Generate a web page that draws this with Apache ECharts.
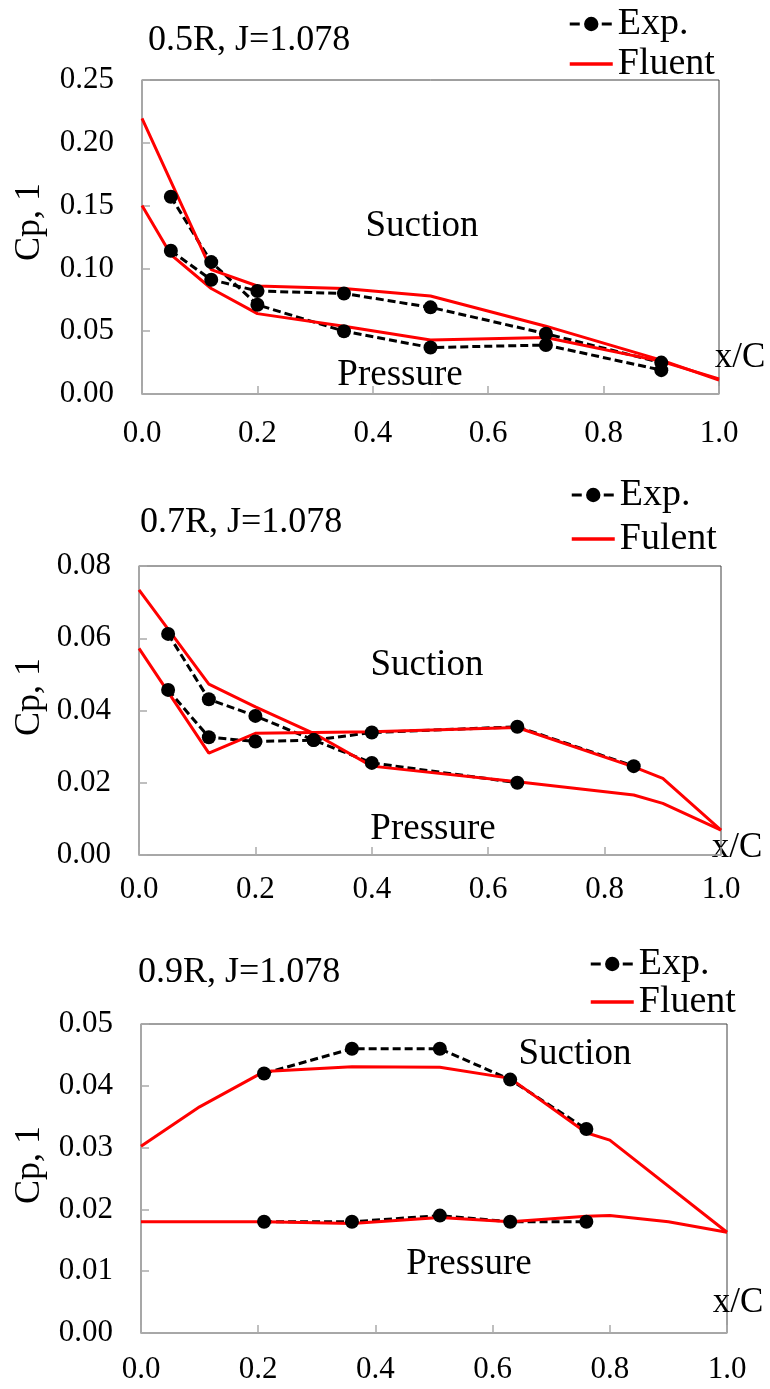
<!DOCTYPE html>
<html>
<head>
<meta charset="utf-8">
<script src="https://cdn.jsdelivr.net/npm/echarts@6/dist/echarts.min.js"></script>
<style>
  html, body { margin: 0; padding: 0; background: #fff; }
  #chart { width: 770px; height: 1389px; }
</style>
</head>
<body>
<div id="chart"></div>
<script>
// Cp distribution at three radial sections, J=1.078

// panel 1 : 0.5R
const p1ExpX = [0.05, 0.12, 0.2, 0.35, 0.5, 0.7, 0.9];
const p1ExpA = [0.157, 0.105, 0.071, 0.050, 0.037, 0.039, 0.019];
const p1ExpB = [0.114, 0.091, 0.082, 0.080, 0.069, 0.048, 0.025];
const p1FluAX = [0, 0.12, 0.2, 0.35, 0.5, 0.7, 0.9, 1.0];
const p1FluA = [0.2195, 0.099, 0.086, 0.084, 0.078, 0.054, 0.027, 0.011];
const p1FluBX = [0, 0.05, 0.12, 0.2, 0.35, 0.5, 0.7, 0.9, 1.0];
const p1FluB = [0.150, 0.111, 0.084, 0.064, 0.054, 0.043, 0.045, 0.026, 0.012];

// panel 2 : 0.7R
const p2ExpAX = [0.05, 0.12, 0.2, 0.3, 0.4, 0.65];
const p2ExpA = [0.0612, 0.0431, 0.0385, 0.0318, 0.0255, 0.0200];
const p2ExpBX = [0.05, 0.12, 0.2, 0.3, 0.4, 0.65, 0.85];
const p2ExpB = [0.0457, 0.0326, 0.0314, 0.0318, 0.0339, 0.0355, 0.0246];
const p2FluAX = [0, 0.12, 0.2, 0.3, 0.4, 0.65, 0.85, 0.9, 1.0];
const p2FluA = [0.0734, 0.0473, 0.0410, 0.0337, 0.0246, 0.0203, 0.0166, 0.0143, 0.0069];
const p2FluBX = [0, 0.12, 0.2, 0.4, 0.65, 0.85, 0.9, 1.0];
const p2FluB = [0.0572, 0.0282, 0.0337, 0.0341, 0.0353, 0.0244, 0.0212, 0.0069];

// panel 3 : 0.9R
const p3ExpX = [0.21, 0.36, 0.51, 0.63, 0.76];
const p3ExpA = [0.042, 0.046, 0.046, 0.041, 0.033];
const p3ExpB = [0.018, 0.018, 0.019, 0.018, 0.018];
const p3FluAX = [0, 0.1, 0.21, 0.36, 0.51, 0.63, 0.76, 0.8, 1.0];
const p3FluA = [0.0302, 0.0366, 0.0423, 0.0431, 0.0430, 0.0412, 0.0324, 0.0312, 0.0163];
const p3FluBX = [0, 0.1, 0.21, 0.36, 0.51, 0.63, 0.76, 0.8, 0.9, 1.0];
const p3FluB = [0.018, 0.018, 0.018, 0.0177, 0.0187, 0.018, 0.0189, 0.019, 0.018, 0.0163];

const titles = ["0.5R, J=1.078", "0.7R, J=1.078", "0.9R, J=1.078"];
const fluentNames = ["Fluent", "Fulent", "Fluent"];
const yMax = [0.25, 0.08, 0.05];
const yStep = [0.05, 0.02, 0.01];

const FONT = "'Liberation Serif', 'Times New Roman', serif";

function pts(xs, ys) {
  return xs.map((x, i) => [x, ys[i]]);
}

// layout of the three panels (px)
const panels = [
  { left: 142, width: 577, top: 80, height: 314, xMargin: 24, legendLeft: 568, legendTop: 5, legendGap: 2,
    titleX: 148, titleY: 41, cpY: 222, suc: [422, 226], pre: [400, 375], xc: [740, 358] },
  { left: 139, width: 582, top: 566, height: 289, xMargin: 19, legendLeft: 570, legendTop: 476, legendGap: 6,
    titleX: 140, titleY: 523, cpY: 697, suc: [427, 665], pre: [433, 829], xc: [737, 848] },
  { left: 141, width: 586, top: 1024, height: 309, xMargin: 21, legendLeft: 589, legendTop: 945, legendGap: 0,
    titleX: 138, titleY: 973, cpY: 1165, suc: [575, 1054], pre: [469, 1264], xc: [738, 1303] },
];

const expData = [
  [pts(p1ExpX, p1ExpA), pts(p1ExpX, p1ExpB)],
  [pts(p2ExpAX, p2ExpA), pts(p2ExpBX, p2ExpB)],
  [pts(p3ExpX, p3ExpA), pts(p3ExpX, p3ExpB)],
];
const fluData = [
  [pts(p1FluAX, p1FluA), pts(p1FluBX, p1FluB)],
  [pts(p2FluAX, p2FluA), pts(p2FluBX, p2FluB)],
  [pts(p3FluAX, p3FluA), pts(p3FluBX, p3FluB)],
];

const grid = [], xAxis = [], yAxis = [], series = [], legend = [], graphic = [];

panels.forEach((p, i) => {
  grid.push({
    left: p.left, width: p.width, top: p.top, height: p.height,
    show: true, borderColor: "#404040", borderWidth: 1,
    outerBoundsMode: "none",
  });
  xAxis.push({
    type: "value", gridIndex: i, min: 0, max: 1, interval: 0.2,
    axisLine: { show: true, lineStyle: { color: "#aaaaaa", width: 1.5 } },
    axisTick: { show: true, inside: true, length: 8, lineStyle: { color: "#aaaaaa", width: 1.5 } },
    splitLine: { show: false },
    axisLabel: {
      margin: p.xMargin, fontSize: 31, fontFamily: FONT, color: "#000",
      formatter: (v) => v.toFixed(1),
    },
  });
  yAxis.push({
    type: "value", gridIndex: i, min: 0, max: yMax[i], interval: yStep[i],
    axisLine: { show: true, lineStyle: { color: "#aaaaaa", width: 1.5 } },
    axisTick: { show: true, inside: true, length: 8, lineStyle: { color: "#aaaaaa", width: 1.5 } },
    splitLine: { show: false },
    axisLabel: {
      margin: 28, fontSize: 31, fontFamily: FONT, color: "#000",
      formatter: (v) => v.toFixed(2),
    },
  });

  expData[i].forEach((d) => {
    series.push({
      name: "Exp.", type: "line", xAxisIndex: i, yAxisIndex: i, data: d,
      symbol: "circle", symbolSize: 14,
      itemStyle: { color: "#000" },
      lineStyle: { color: "#000", width: 3, type: [8, 4] },
    });
  });
  fluData[i].forEach((d) => {
    series.push({
      name: fluentNames[i], type: "line", xAxisIndex: i, yAxisIndex: i, data: d,
      symbol: "none",
      itemStyle: { color: "#ff0000" },
      lineStyle: { color: "#ff0000", width: 3 },
    });
  });

  legend.push({
    data: [
      { name: "Exp.", lineStyle: { type: [10, 6], width: 3 } },
      { name: fluentNames[i], itemStyle: { opacity: 0 }, lineStyle: { width: 3.5 } },
    ],
    orient: "vertical", left: p.legendLeft, top: p.legendTop, padding: 0,
    itemWidth: 43, itemHeight: 18, itemGap: p.legendGap,
    textStyle: { fontSize: 38, lineHeight: 38, fontFamily: FONT, color: "#000" },
    selectedMode: false,
  });

  const txt = (text, x, y, size, align, extra) =>
    Object.assign({
      type: "text", x: x, y: y, silent: true,
      style: { text: text, fontSize: size, fontFamily: FONT, fill: "#000", align: align, verticalAlign: "middle" },
    }, extra || {});

  graphic.push(txt(titles[i], p.titleX, p.titleY, 36, "left"));
  graphic.push(txt("Cp, 1", 30, p.cpY, 36, "center", { rotation: Math.PI / 2 }));
  graphic.push(txt("Suction", p.suc[0], p.suc[1], 37, "center"));
  graphic.push(txt("Pressure", p.pre[0], p.pre[1], 37, "center"));
  graphic.push(txt("x/C", p.xc[0], p.xc[1], 35, "center"));
});

const chart = echarts.init(document.getElementById("chart"));
chart.setOption({
  animation: false,
  backgroundColor: "#fff",
  grid: grid,
  xAxis: xAxis,
  yAxis: yAxis,
  legend: legend,
  series: series,
  graphic: graphic,
});
</script>
</body>
</html>
